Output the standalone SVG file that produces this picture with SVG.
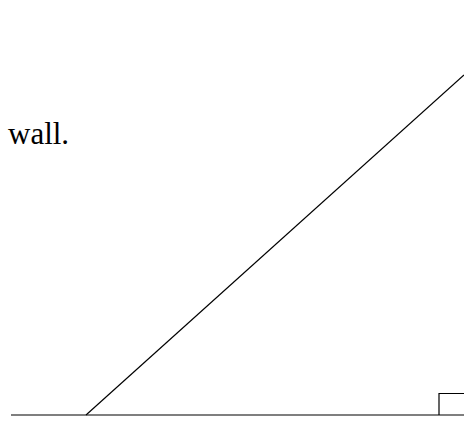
<svg xmlns="http://www.w3.org/2000/svg" width="464" height="421" viewBox="0 0 464 421">
<style>
.ln{stroke:#000;stroke-width:1.2;fill:none}
.t{font-family:"Liberation Serif","Times New Roman",serif;font-size:31px;fill:#000}
</style>
<rect width="464" height="421" fill="#fff"/>
<g id="label"><text class="t" x="8" y="144">wall.</text></g>
<g id="connectors">
<line class="ln" x1="11" y1="415" x2="464" y2="415"/>
<line class="ln" x1="86" y1="415" x2="464" y2="75"/>
<polyline class="ln" points="439,415 439,393.5 464,393.5"/>
</g>
</svg>
